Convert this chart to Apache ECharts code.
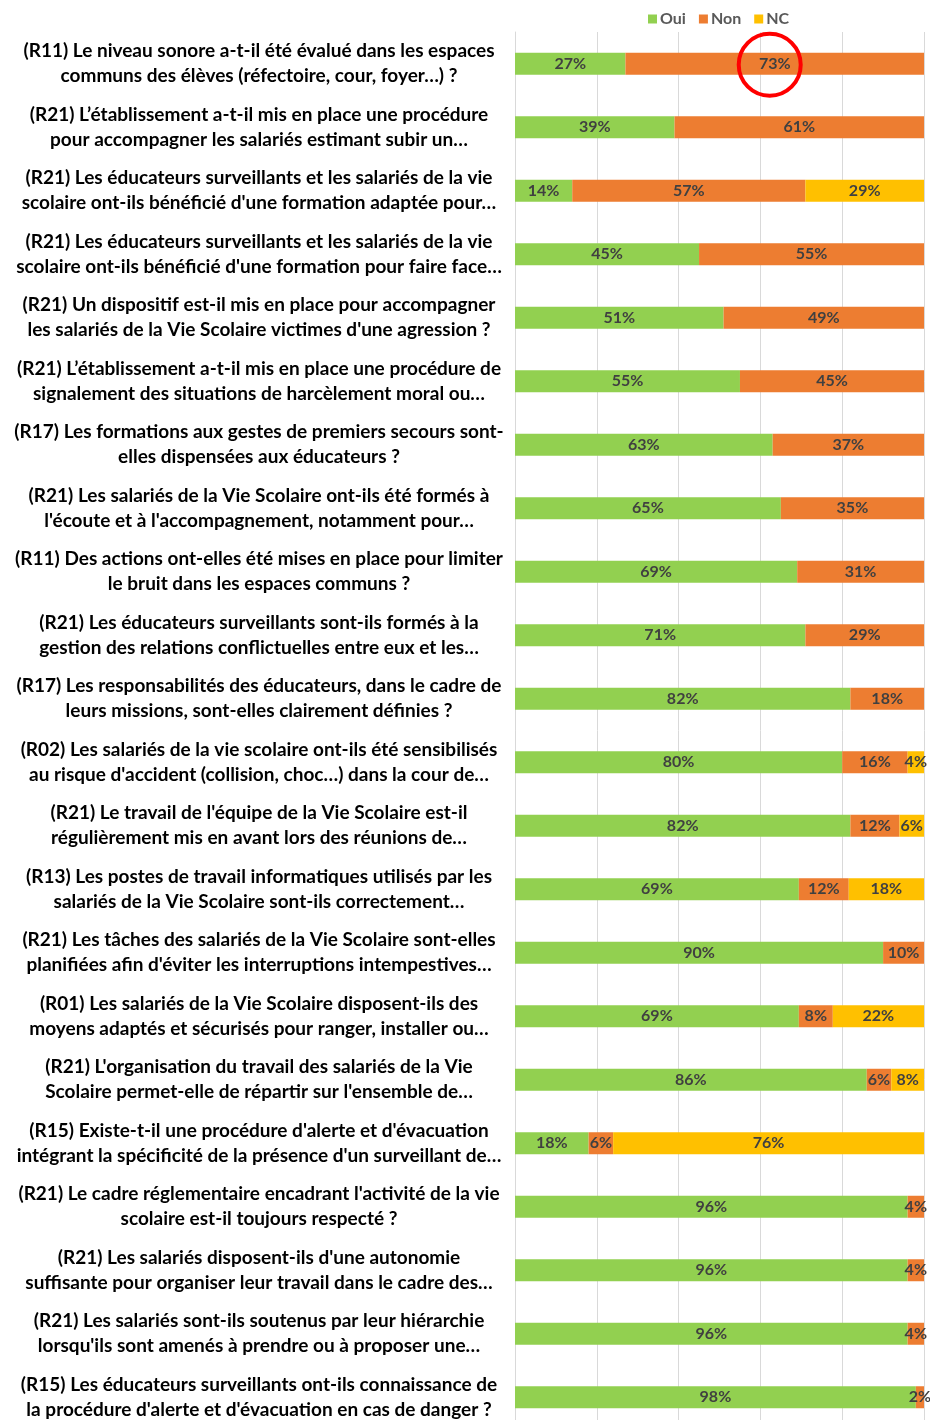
<!DOCTYPE html>
<html>
<head>
<meta charset="utf-8">
<script src="https://cdn.jsdelivr.net/npm/echarts@6/dist/echarts.min.js"></script>
<style>
    html, body {margin: 0; padding: 0; background: #fff; overflow: hidden;}
    #chart {width: 930px; height: 1440px;}
</style>
</head>
<body>
<div id="chart"></div>
<script>
    const questions = [
        "(R11) Le niveau sonore a-t-il été évalué dans les espaces\ncommuns des élèves (réfectoire, cour, foyer…) ?",
        "(R21) L’établissement a-t-il mis en place une procédure\npour accompagner les salariés estimant subir un…",
        "(R21) Les éducateurs surveillants et les salariés de la vie\nscolaire ont-ils bénéficié d'une formation adaptée pour…",
        "(R21) Les éducateurs surveillants et les salariés de la vie\nscolaire ont-ils bénéficié d'une formation pour faire face…",
        "(R21) Un dispositif est-il mis en place pour accompagner\nles salariés de la Vie Scolaire victimes d'une agression ?",
        "(R21) L’établissement a-t-il mis en place une procédure de\nsignalement des situations de harcèlement moral ou…",
        "(R17) Les formations aux gestes de premiers secours sont-\nelles dispensées aux éducateurs ?",
        "(R21) Les salariés de la Vie Scolaire ont-ils été formés à\nl'écoute et à l'accompagnement, notamment pour…",
        "(R11) Des actions ont-elles été mises en place pour limiter\nle bruit dans les espaces communs ?",
        "(R21) Les éducateurs surveillants sont-ils formés à la\ngestion des relations conflictuelles entre eux et les…",
        "(R17) Les responsabilités des éducateurs, dans le cadre de\nleurs missions, sont-elles clairement définies ?",
        "(R02) Les salariés de la vie scolaire ont-ils été sensibilisés\nau risque d'accident (collision, choc…) dans la cour de…",
        "(R21) Le travail de l'équipe de la Vie Scolaire est-il\nrégulièrement mis en avant lors des réunions de…",
        "(R13) Les postes de travail informatiques utilisés par les\nsalariés de la Vie Scolaire sont-ils correctement…",
        "(R21) Les tâches des salariés de la Vie Scolaire sont-elles\nplanifiées afin d'éviter les interruptions intempestives…",
        "(R01) Les salariés de la Vie Scolaire disposent-ils des\nmoyens adaptés et sécurisés pour ranger, installer ou…",
        "(R21) L'organisation du travail des salariés de la Vie\nScolaire permet-elle de répartir sur l'ensemble de…",
        "(R15) Existe-t-il une procédure d'alerte et d'évacuation\nintégrant la spécificité de la présence d'un surveillant de…",
        "(R21) Le cadre réglementaire encadrant l'activité de la vie\nscolaire est-il toujours respecté ?",
        "(R21) Les salariés disposent-ils d'une autonomie\nsuffisante pour organiser leur travail dans le cadre des…",
        "(R21) Les salariés sont-ils soutenus par leur hiérarchie\nlorsqu'ils sont amenés à prendre ou à proposer une…",
        "(R15) Les éducateurs surveillants ont-ils connaissance de\nla procédure d'alerte et d'évacuation en cas de danger ?"
    ];

    // pourcentages
    const oui = [27, 39, 14, 45, 51, 55, 63, 65, 69, 71, 82, 80, 82, 69.4, 90, 69.4, 86, 18, 96, 96, 96, 98];
    const non = [73, 61, 57, 55, 49, 45, 37, 35, 31, 29, 18, 16, 12, 12.2, 10, 8.3, 6, 6, 4, 4, 4, 2];
    const nc = [0, 0, 29, 0, 0, 0, 0, 0, 0, 0, 0, 4, 6, 18.4, 0, 22.3, 8, 76, 0, 0, 0, 0];

    const seriesNames = ['Oui', 'Non', 'NC'];
    const colors = ['#92d050', '#ed7d31', '#ffc000'];
    const font = 'Lato, "Open Sans", sans-serif';

    const chart = echarts.init(document.getElementById('chart'));

    const makeSeries = (name, data) => ({
        name: name,
        type: 'bar',
        stack: 'total',
        barWidth: 22,
        data: data,
        label: {
            show: true,
            position: 'inside',
            formatter: p => p.value ? Math.round(p.value) + '%' : '',
            color: '#404040',
            fontFamily: font,
            fontWeight: 'bold',
            fontSize: 16
        }
    });

    const option = {
        animation: false,
        color: colors,
        legend: {
            data: seriesNames,
            left: 643,
            top: 6,
            icon: 'rect',
            itemWidth: 9,
            itemHeight: 9,
            itemGap: 13,
            textStyle: {
                color: '#595959',
                fontFamily: font,
                fontWeight: 'bold',
                fontSize: 16,
                padding: [0, 0, 0, -2]
            }
        },
        grid: {
            left: 515,
            right: 6,
            top: 32,
            bottom: 11,
            containLabel: false
        },
        xAxis: {
            type: 'value',
            min: 0,
            max: 100,
            interval: 20,
            axisLabel: {show: false},
            axisLine: {show: false},
            axisTick: {show: false},
            splitLine: {lineStyle: {color: '#d9d9d9', width: 1}}
        },
        yAxis: {
            type: 'category',
            inverse: true,
            data: questions,
            axisLine: {lineStyle: {color: '#d9d9d9'}},
            axisTick: {inside: true, length: 5, lineStyle: {color: '#d9d9d9'}},
            axisLabel: {
                align: 'center',
                margin: 256,
                color: '#000',
                fontFamily: font,
                fontWeight: 'bold',
                fontSize: 19,
                lineHeight: 25
            }
        },
        series: [
            makeSeries('Oui', oui),
            makeSeries('Non', non),
            makeSeries('NC', nc)
        ]
    };

    chart.setOption(option);

    // cercle rouge autour du 73 % de la première question
    const center = chart.convertToPixel({gridIndex: 0}, [oui[0] + non[0] / 2, 0]);
    chart.setOption({
        graphic: [{
            type: 'circle',
            shape: {cx: center[0] - 5, cy: center[1] + 1, r: 31},
            style: {fill: 'none', stroke: '#ff0000', lineWidth: 4},
            z: 100
        }]
    });
</script>
</body>
</html>
